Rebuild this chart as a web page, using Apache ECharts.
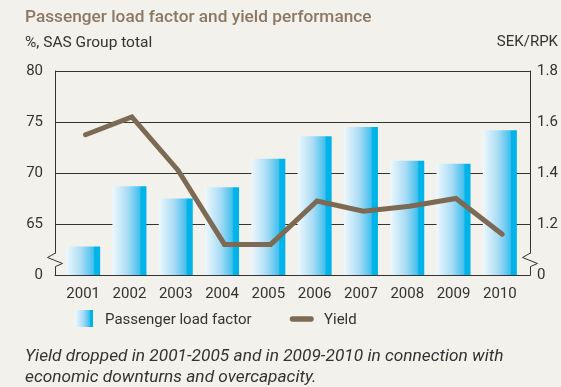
<!DOCTYPE html>
<html>
<head>
<meta charset="utf-8">
<script src="https://cdn.jsdelivr.net/npm/echarts@6/dist/echarts.min.js"></script>
<style>
  html, body { margin: 0; padding: 0; background: #f2f1eb; }
  #chart { width: 561px; height: 387px; }
</style>
</head>
<body>
<div id="chart"></div>
<script>
// Categories and series values
const years = ['2001', '2002', '2003', '2004', '2005', '2006', '2007', '2008', '2009', '2010'];
const loadFactor = [62.8, 68.7, 67.5, 68.6, 71.4, 73.6, 74.5, 71.2, 70.9, 74.2];
const yieldSekRpk = [1.55, 1.62, 1.41, 1.12, 1.12, 1.29, 1.25, 1.27, 1.30, 1.16];

// Axis ranges; the bottom of each broken axis is labelled "0"
const leftRange = { min: 60, max: 80, interval: 5 };
const rightRange = { min: 1.0, max: 1.8, interval: 0.2 };
const leftTickLabels = { 60: '0', 65: '65', 70: '70', 75: '75', 80: '80' };
const rightTickLabels = { '1.0': '0', '1.2': '1.2', '1.4': '1.4', '1.6': '1.6', '1.8': '1.8' };

const FONT = 'Roboto';
const INK = '#333333';
const BG = '#f2f1eb';
const YIELD_COLOR = '#7d6a55';

const barGradient = new echarts.graphic.LinearGradient(0, 0, 1, 0, [
  { offset: 0, color: '#eef8fd' },
  { offset: 0.45, color: '#a9dcf5' },
  { offset: 0.8, color: '#45c0ee' },
  { offset: 0.84, color: '#00b4ea' },
  { offset: 1, color: '#00b4ea' }
]);

const chart = echarts.init(document.getElementById('chart'), null, { renderer: 'canvas' });

const hiddenY = (r) => ({
  type: 'value', min: r.min, max: r.max, interval: r.interval,
  show: false, splitLine: { show: false }
});

// zig-zag break marks drawn over the axis lines
function breakMark(x) {
  return [
    { type: 'rect', z: 50, shape: { x: x - 2, y: 253.5, width: 4, height: 13 }, style: { fill: BG } },
    { type: 'polyline', z: 51,
      shape: { points: [[x, 253], [x - 8, 257.5], [x + 7, 263.5], [x, 266.5]] },
      style: { stroke: INK, lineWidth: 1, fill: null } }
  ];
}

const option = {
  backgroundColor: BG,
  animation: false,
  textStyle: { fontFamily: FONT },
  grid: [
    // frame grid: axes lines, split lines, tick labels
    { left: 55, right: 31, top: 71, bottom: 112 },
    // bar grid
    { left: 60, right: 38, top: 71, bottom: 112 },
    // yield line grid
    { left: 62.4, right: 35.6, top: 71, bottom: 112 }
  ],
  xAxis: [
    { gridIndex: 0, type: 'value', min: 0, max: 1,
      axisLine: { show: true, lineStyle: { color: INK, width: 1 } },
      axisTick: { show: false }, axisLabel: { show: false }, splitLine: { show: false } },
    { gridIndex: 1, type: 'category', data: years, boundaryGap: true,
      axisLine: { show: false }, axisTick: { show: false },
      axisLabel: { color: INK, fontSize: 15, fontFamily: FONT, margin: 12 } },
    { gridIndex: 2, type: 'category', data: years, boundaryGap: true, show: false }
  ],
  yAxis: [
    { gridIndex: 0, type: 'value', position: 'left',
      min: leftRange.min, max: leftRange.max, interval: leftRange.interval,
      axisLine: { show: true, lineStyle: { color: INK, width: 1 } },
      axisTick: { show: false },
      axisLabel: { color: INK, fontSize: 15, fontFamily: FONT, margin: 12,
        formatter: (v) => leftTickLabels[v] ?? String(v) },
      splitLine: { show: true, lineStyle: { color: INK, width: 1 } } },
    { gridIndex: 0, type: 'value', position: 'right',
      min: rightRange.min, max: rightRange.max, interval: rightRange.interval,
      axisLine: { show: true, lineStyle: { color: INK, width: 1 } },
      axisTick: { show: false },
      axisLabel: { color: INK, fontSize: 15, fontFamily: FONT, margin: 7,
        formatter: (v) => rightTickLabels[v.toFixed(1)] ?? v.toFixed(1) },
      splitLine: { show: false } },
    Object.assign({ gridIndex: 1 }, hiddenY(leftRange)),
    Object.assign({ gridIndex: 2 }, hiddenY(rightRange))
  ],
  series: [
    { name: 'Passenger load factor', type: 'bar', xAxisIndex: 1, yAxisIndex: 2,
      data: loadFactor, barWidth: 34, itemStyle: { color: barGradient }, z: 3 },
    { name: 'Yield', type: 'line', xAxisIndex: 2, yAxisIndex: 3,
      data: yieldSekRpk, symbol: 'none', z: 4,
      lineStyle: { color: YIELD_COLOR, width: 5, cap: 'round', join: 'miter' } }
  ],
  graphic: [
    { type: 'text', left: 25, top: 9,
      style: { text: 'Passenger load factor and yield performance', fill: '#8b7864',
        font: '500 17.25px ' + FONT } },
    { type: 'text', left: 25, top: 35,
      style: { text: '%, SAS Group total', fill: INK, font: '15.5px ' + FONT } },
    { type: 'text', right: 3, top: 35,
      style: { text: 'SEK/RPK', fill: INK, font: '15px ' + FONT } },
    // legend
    { type: 'rect', shape: { x: 75, y: 310, width: 18, height: 17 }, style: { fill: barGradient } },
    { type: 'text', x: 105, y: 320.5,
      style: { text: 'Passenger load factor', fill: INK, font: '15px ' + FONT, textVerticalAlign: 'middle' } },
    { type: 'line', shape: { x1: 292.5, y1: 319, x2: 311, y2: 319 },
      style: { stroke: YIELD_COLOR, lineWidth: 5.5, lineCap: 'round' } },
    { type: 'text', x: 324, y: 320.5,
      style: { text: 'Yield', fill: INK, font: '15px ' + FONT, textVerticalAlign: 'middle' } },
    // caption
    { type: 'text', x: 25, y: 357,
      style: { text: 'Yield dropped in 2001-2005 and in 2009-2010 in connection with', fill: INK,
        font: 'italic 17.3px ' + FONT, textVerticalAlign: 'middle' } },
    { type: 'text', x: 25, y: 378,
      style: { text: 'economic downturns and overcapacity.', fill: INK,
        font: 'italic 17.3px ' + FONT, textVerticalAlign: 'middle' } }
  ].concat(breakMark(55.5), breakMark(530.5))
};

chart.setOption(option);
</script>
</body>
</html>
